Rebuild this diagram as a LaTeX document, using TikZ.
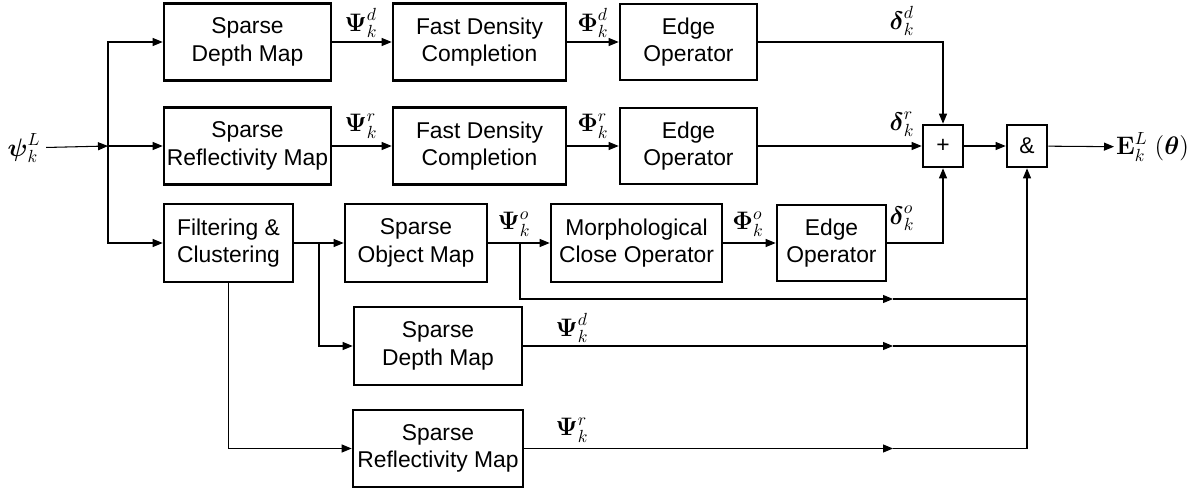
\documentclass[tikz,border=0pt]{standalone}
\usepackage{amsmath,amssymb}
\usepackage[no-math]{fontspec}
\setmainfont{Liberation Sans}
\usepackage{tikz}
\usetikzlibrary{arrows.meta}

\begin{document}
\begin{tikzpicture}[x=0.2mm,y=-0.2mm,
  box/.style={draw,line width=1.5pt,align=center,inner sep=0pt,font=\fontsize{13}{15.6}\selectfont},
  wire/.style={line width=0.6pt},
  arr/.style={wire,-{Triangle[length=2mm,width=1.6mm]}},
  lbl/.style={inner sep=1pt,font=\fontsize{14.4}{17}\selectfont}]
\useasboundingbox (0,0) rectangle (1191,490);

%% input and split point
\node[lbl,inner sep=3pt] (psiL) at (24,148) {$\boldsymbol{\psi}_k^L$};
\coordinate (split) at (108,146);

%% depth branch
\node[box,minimum width=33.4mm,minimum height=15.4mm] (sdmA) at (247.5,42) {Sparse\\Depth Map};
\node[box,minimum width=34.6mm,minimum height=15.4mm] (fdcA) at (479.5,42) {Fast Density\\Completion};
\node[box,minimum width=27.4mm,minimum height=15.2mm] (eoA) at (688.5,42) {Edge\\Operator};

%% reflectivity branch
\node[box,minimum width=33.4mm,minimum height=15.4mm] (srmA) at (247.5,146) {Sparse\\Reflectivity Map};
\node[box,minimum width=34.6mm,minimum height=15.4mm] (fdcB) at (479.5,146) {Fast Density\\Completion};
\node[box,minimum width=27.4mm,minimum height=15.2mm] (eoB) at (688.5,146) {Edge\\Operator};

%% object branch
\node[box,minimum width=25.8mm,minimum height=15.6mm] (fc) at (228.5,243) {Filtering \&\\Clustering};
\node[box,minimum width=28.4mm,minimum height=15.6mm] (som) at (416,243) {Sparse\\Object Map};
\node[box,minimum width=34.2mm,minimum height=15.6mm] (mco) at (636.5,243) {Morphological\\Close Operator};
\node[box,minimum width=21.8mm,minimum height=15.2mm] (eoC) at (831.5,243) {Edge\\Operator};
\node[box,minimum width=33.6mm,minimum height=15.6mm] (sdmB) at (438,346) {Sparse\\Depth Map};
\node[box,minimum width=34mm,minimum height=15.4mm] (srmB) at (438,448.5) {Sparse\\Reflectivity Map};

%% fusion
\node[box,minimum width=8mm,minimum height=8.4mm] (plus) at (943,146) {+};
\node[box,minimum width=8mm,minimum height=8.4mm] (amp) at (1027,146) {\&};
\node[lbl,anchor=west] (out) at (1114,147) {$\mathbf{E}_k^L\;(\boldsymbol{\theta})$};

%% taps and junctions
\coordinate (tapA) at (319,243);
\coordinate (tapB) at (520,243);
\coordinate (midA) at (893,299);
\coordinate (midB) at (893,346);
\coordinate (midC) at (893,448.5);
\coordinate (joinA) at (1027,299);
\coordinate (joinB) at (1027,346);
\coordinate (joinC) at (1027,448.5);

%% connectors
\draw[arr] (psiL) -- (split);
\draw[arr] (split) |- (sdmA.west);
\draw[arr] (split) -- (srmA.west);
\draw[arr] (split) |- (fc.west);

\draw[arr] (sdmA) -- (fdcA);
\draw[arr] (fdcA) -- (eoA);
\draw[arr] (eoA.east) -| (plus.north);
\draw[arr] (srmA) -- (fdcB);
\draw[arr] (fdcB) -- (eoB);
\draw[arr] (eoB) -- (plus);

\draw[arr] (fc) -- (som);
\draw[arr] (tapA) |- (sdmB.west);
\draw[arr] (fc.south) |- (srmB.west);
\draw[arr] (som) -- (mco);
\draw[arr] (mco) -- (eoC);
\draw[arr] (eoC.east) -| (plus.south);

\draw[arr] (tapB) |- (midA);
\draw[wire] (midA) -- (joinA);
\draw[arr] (sdmB.east) -- (midB);
\draw[wire] (midB) -- (joinB);
\draw[arr] (srmB.east) -- (midC);
\draw[wire] (midC) -- (joinC);
\draw[arr] (joinC) -- (amp.south);

\draw[arr] (plus) -- (amp);
\draw[arr] (amp) -- (out);

%% signal labels
\node[lbl] at (361,23) {$\boldsymbol{\Psi}_k^d$};
\node[lbl] at (593,23) {$\boldsymbol{\Phi}_k^d$};
\node[lbl] at (361,126) {$\boldsymbol{\Psi}_k^r$};
\node[lbl] at (593,126) {$\boldsymbol{\Phi}_k^r$};
\node[lbl] at (902,21) {$\boldsymbol{\delta}_k^d$};
\node[lbl] at (902,124) {$\boldsymbol{\delta}_k^r$};
\node[lbl] at (902,218) {$\boldsymbol{\delta}_k^o$};
\node[lbl] at (514,224) {$\boldsymbol{\Psi}_k^o$};
\node[lbl] at (748,224) {$\boldsymbol{\Phi}_k^o$};
\node[lbl] at (572,328) {$\boldsymbol{\Psi}_k^d$};
\node[lbl] at (572,430) {$\boldsymbol{\Psi}_k^r$};
\end{tikzpicture}
\end{document}
